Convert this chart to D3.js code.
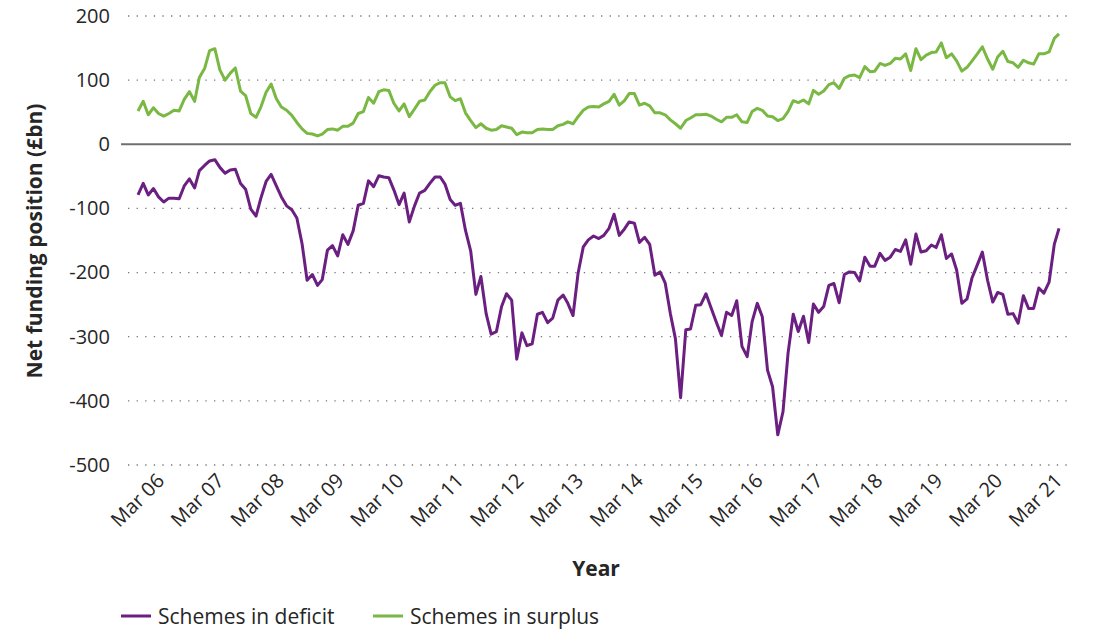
<!DOCTYPE html>
<html>
<head>
<meta charset="utf-8">
<script src="https://cdn.jsdelivr.net/npm/d3@7"></script>
<style>
  body { margin: 0; background: #fff; font-family: "Open Sans", sans-serif; }
  svg text { fill: #262626; font-family: "Open Sans", sans-serif; }
</style>
</head>
<body>
<svg id="chart" width="1096" height="633"></svg>
<script>
// monthly readings, Mar 2006 .. Mar 2021 (£bn)
const startMonth = new Date(2006, 2, 1);

const deficit = [
  -79, -61, -79, -69, -82, -90, -84, -84, -85, -65, -54, -68,
  -41, -33, -26, -24, -36, -45, -40, -39, -61, -70, -101, -112,
  -84, -58, -47, -65, -82, -96, -102, -115, -155, -212, -203, -220,
  -211, -165, -158, -174, -141, -156, -135, -95, -92, -57, -66, -49,
  -51, -52, -71, -94, -76, -121, -96, -76, -72, -61, -51, -51,
  -62, -86, -95, -92, -134, -166, -234, -206, -264, -296, -292, -253,
  -233, -243, -335, -294, -314, -311, -265, -262, -278, -271, -243, -235,
  -248, -267, -201, -160, -149, -143, -147, -142, -131, -109, -142, -132,
  -121, -123, -153, -145, -156, -204, -199, -216, -264, -303, -395, -289,
  -288, -251, -250, -233, -255, -277, -298, -262, -267, -244, -315, -331,
  -277, -248, -269, -352, -378, -453, -417, -326, -265, -292, -268, -309,
  -249, -262, -253, -220, -217, -247, -203, -199, -200, -213, -176, -190,
  -190, -170, -181, -176, -164, -167, -149, -187, -140, -168, -166, -157,
  -161, -141, -178, -171, -196, -248, -241, -208, -188, -168, -212, -246,
  -231, -234, -265, -264, -279, -236, -256, -256, -224, -232, -215, -156,
  -131
];

const surplus = [
  52, 67, 46, 57, 48, 44, 48, 53, 52, 70, 82, 67,
  104, 118, 146, 149, 116, 100, 111, 119, 83, 76, 48, 42,
  58, 81, 94, 71, 58, 53, 45, 34, 24, 17, 16, 13,
  16, 23, 24, 22, 28, 28, 33, 48, 51, 73, 64, 82,
  85, 84, 64, 52, 63, 43, 55, 67, 69, 82, 92, 96,
  96, 74, 68, 71, 49, 37, 26, 32, 25, 22, 23, 29,
  27, 25, 15, 19, 18, 18, 23, 24, 23, 23, 29, 31,
  35, 32, 43, 53, 58, 59, 58, 63, 67, 78, 61, 68,
  79, 79, 61, 64, 60, 49, 49, 46, 38, 32, 25, 37,
  41, 46, 46, 47, 44, 39, 35, 42, 42, 46, 35, 34,
  51, 56, 53, 44, 43, 37, 40, 51, 68, 65, 69, 63,
  84, 78, 83, 93, 96, 87, 103, 107, 108, 104, 121, 113,
  114, 126, 123, 126, 134, 133, 141, 115, 149, 132, 139, 143,
  144, 158, 135, 141, 130, 114, 120, 130, 141, 152, 133, 117,
  136, 145, 129, 127, 120, 131, 127, 125, 141, 141, 144, 165,
  172
];

const yTicks = [200, 100, 0, -100, -200, -300, -400, -500];
const xTickLabels = ["Mar 06", "Mar 07", "Mar 08", "Mar 09", "Mar 10", "Mar 11", "Mar 12", "Mar 13",
  "Mar 14", "Mar 15", "Mar 16", "Mar 17", "Mar 18", "Mar 19", "Mar 20", "Mar 21"];
const seriesNames = ["Schemes in deficit", "Schemes in surplus"];
const seriesColors = ["#6b1f80", "#7ab844"];

const svg = d3.select("#chart");

const dates = deficit.map((d, i) => d3.timeMonth.offset(startMonth, i));

const x = d3.scaleTime()
  .domain([dates[0], dates[dates.length - 1]])
  .range([138, 1059]);

// the category labels sit on their own, slightly tighter, spacing
const xLabel = d3.scalePoint()
  .domain(xTickLabels)
  .range([153, 1051]);

const y = d3.scaleLinear()
  .domain([-500, 200])
  .range([465, 16]);

// y labels
const yAxis = svg.append("g")
  .attr("transform", "translate(128,0)")
  .call(d3.axisLeft(y).tickValues(yTicks).tickSize(0).tickPadding(18).tickFormat(d => String(d)));
yAxis.select(".domain").remove();
yAxis.selectAll("text")
  .style("font-size", "20px")
  .attr("fill", "#262626");

// dotted gridlines
svg.append("g")
  .selectAll("line")
  .data(yTicks.filter(d => d !== 0))
  .join("line")
  .attr("x1", 128)
  .attr("x2", 1072)
  .attr("y1", d => y(d))
  .attr("y2", d => y(d))
  .attr("stroke", "#777")
  .attr("stroke-width", 1.3)
  .attr("stroke-dasharray", "1.3,7.3");

// zero line
svg.append("line")
  .attr("x1", 121)
  .attr("x2", 1071)
  .attr("y1", y(0))
  .attr("y2", y(0))
  .attr("stroke", "#6f6f6f")
  .attr("stroke-width", 2);

// x labels, rotated
const xAxis = svg.append("g")
  .attr("transform", "translate(0,470)")
  .call(d3.axisBottom(xLabel).tickSize(0));
xAxis.select(".domain").remove();
xAxis.selectAll("text")
  .style("font-size", "20px")
  .attr("fill", "#262626")
  .attr("text-anchor", "end")
  .attr("dy", "0.7em")
  .attr("transform", "rotate(-45)");

// lines
const line = d3.line()
  .x((d, i) => x(dates[i]))
  .y(d => y(d));

[deficit, surplus].forEach((series, k) => {
  svg.append("path")
    .datum(series)
    .attr("fill", "none")
    .attr("stroke", seriesColors[k])
    .attr("stroke-width", 3)
    .attr("stroke-linejoin", "round")
    .attr("d", line);
});

// axis titles
svg.append("text")
  .attr("transform", "translate(42,241) rotate(-90)")
  .attr("text-anchor", "middle")
  .style("font-size", "21px")
  .style("font-weight", "bold")
  .text("Net funding position (£bn)");

svg.append("text")
  .attr("x", 596)
  .attr("y", 576)
  .attr("text-anchor", "middle")
  .style("font-size", "21px")
  .style("font-weight", "bold")
  .text("Year");

// legend
const legend = svg.append("g").attr("transform", "translate(121,616)");
const legendX = [0, 252];
seriesNames.forEach((name, k) => {
  const g = legend.append("g").attr("transform", `translate(${legendX[k]},0)`);
  g.append("line")
    .attr("x1", 0).attr("x2", 30)
    .attr("y1", 0).attr("y2", 0)
    .attr("stroke", seriesColors[k])
    .attr("stroke-width", 3);
  g.append("text")
    .attr("x", 37)
    .attr("y", 8)
    .style("font-size", "21px")
    .attr("fill", "#333")
    .text(name);
});
</script>
</body>
</html>
